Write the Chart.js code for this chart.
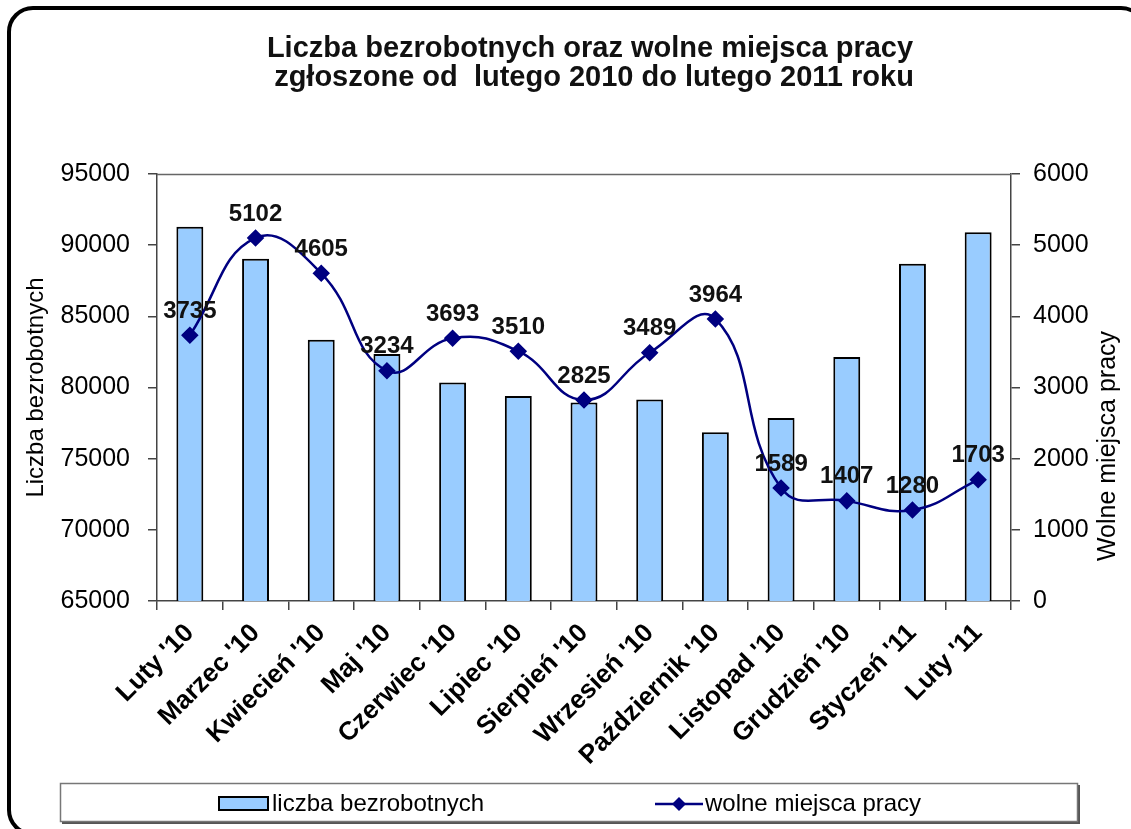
<!DOCTYPE html>
<html>
<head>
<meta charset="utf-8">
<script src="https://cdn.jsdelivr.net/npm/chart.js@4.4.1/dist/chart.umd.min.js"></script>
<style>
html,body{margin:0;padding:0;background:#fff;overflow:hidden;}
#wrap{position:relative;width:1131px;height:829px;overflow:hidden;background:#fff;}
#frame{position:absolute;left:7px;top:6px;width:1132px;height:822px;border:4px solid #000;border-radius:26px;box-sizing:content-box;}
#c{position:absolute;left:0;top:0;}
</style>
</head>
<body>
<div id="wrap">
<div id="frame"></div>
<canvas id="c" width="1131" height="829"></canvas>
</div>
<script>
// ---- data ----
const categories = ["Luty '10","Marzec '10","Kwiecień '10","Maj '10","Czerwiec '10","Lipiec '10","Sierpień '10","Wrzesień '10","Październik '10","Listopad '10","Grudzień '10","Styczeń '11","Luty '11"];
const unemployed = [91300, 89050, 83350, 82350, 80350, 79400, 78950, 79150, 76850, 77850, 82150, 88700, 90900];
const vacancies = [3735, 5102, 4605, 3234, 3693, 3510, 2825, 3489, 3964, 1589, 1407, 1280, 1703];
const leftTicks = [65000, 70000, 75000, 80000, 85000, 90000, 95000];
const rightTicks = [0, 1000, 2000, 3000, 4000, 5000, 6000];
const titleLines = ["Liczba bezrobotnych oraz wolne miejsca pracy", "zgłoszone od  lutego 2010 do lutego 2011 roku"];
const leftAxisTitle = "Liczba bezrobotnych";
const rightAxisTitle = "Wolne miejsca pracy";
const seriesNames = ["liczba bezrobotnych", "wolne miejsca pracy"];

const BAR_FILL = '#99CCFF';
const LINE_COL = '#000080';
const FONT = 'Arial, "Liberation Sans", sans-serif';

const decorPlugin = {
  id: 'decor',
  beforeDatasetsDraw(chart) {
    const {ctx, chartArea: a} = chart;
    ctx.save();
    ctx.strokeStyle = '#666';
    ctx.lineWidth = 1.5;
    ctx.beginPath();
    ctx.moveTo(a.left, a.top + 0.5);
    ctx.lineTo(a.right, a.top + 0.5);
    ctx.stroke();
    ctx.restore();
  },
  afterDatasetsDraw(chart) {
    const {ctx} = chart;
    const meta = chart.getDatasetMeta(1);
    ctx.save();
    ctx.font = 'bold 24px ' + FONT;
    ctx.fillStyle = '#111';
    ctx.textAlign = 'center';
    ctx.textBaseline = 'middle';
    meta.data.forEach((pt, i) => {
      ctx.fillText(String(vacancies[i]), pt.x, pt.y - 24);
    });
    ctx.restore();
  },
  afterDraw(chart) {
    const {ctx} = chart;
    ctx.save();
    // title
    ctx.fillStyle = '#111';
    ctx.font = 'bold 29px ' + FONT;
    ctx.textAlign = 'center';
    ctx.textBaseline = 'middle';
    ctx.fillText(titleLines[0], 590, 49);
    ctx.fillText(titleLines[1], 594, 78);
    // right axis title (reads bottom to top)
    ctx.save();
    ctx.translate(1108, 446);
    ctx.rotate(-Math.PI / 2);
    ctx.font = '25px ' + FONT;
    ctx.fillStyle = '#000';
    ctx.fillText(rightAxisTitle, 0, 0);
    ctx.restore();
    // legend box
    ctx.fillStyle = '#555';
    ctx.fillRect(62, 785, 1018, 39);
    ctx.fillStyle = '#fff';
    ctx.fillRect(60, 783, 1018, 39);
    ctx.strokeStyle = '#777';
    ctx.lineWidth = 1.5;
    ctx.strokeRect(60.5, 783.5, 1017, 38);
    // bar swatch
    ctx.fillStyle = BAR_FILL;
    ctx.fillRect(219, 797, 49, 13);
    ctx.strokeStyle = '#000';
    ctx.lineWidth = 2;
    ctx.strokeRect(219, 797, 49, 13);
    ctx.fillStyle = '#000';
    ctx.font = '24px ' + FONT;
    ctx.textAlign = 'left';
    ctx.textBaseline = 'middle';
    ctx.fillText(seriesNames[0], 272, 804);
    // line swatch
    ctx.strokeStyle = LINE_COL;
    ctx.lineWidth = 2.5;
    ctx.beginPath();
    ctx.moveTo(655, 804);
    ctx.lineTo(703, 804);
    ctx.stroke();
    ctx.fillStyle = LINE_COL;
    ctx.beginPath();
    ctx.moveTo(679, 797); ctx.lineTo(686, 804); ctx.lineTo(679, 811); ctx.lineTo(672, 804);
    ctx.closePath();
    ctx.fill();
    ctx.fillStyle = '#000';
    ctx.fillText(seriesNames[1], 705, 804);
    ctx.restore();
  }
};

const plain = v => String(v);

new Chart(document.getElementById('c'), {
  data: {
    labels: categories,
    datasets: [
      {
        type: 'bar',
        label: seriesNames[0],
        data: unemployed,
        yAxisID: 'y',
        backgroundColor: BAR_FILL,
        borderColor: '#000',
        borderWidth: 2,
        borderSkipped: false,
        barPercentage: 1,
        categoryPercentage: 0.41,
        order: 2
      },
      {
        type: 'line',
        label: seriesNames[1],
        data: vacancies,
        yAxisID: 'y1',
        borderColor: LINE_COL,
        borderWidth: 2.5,
        backgroundColor: LINE_COL,
        pointBackgroundColor: LINE_COL,
        pointBorderColor: LINE_COL,
        pointStyle: 'rectRot',
        pointRadius: 7,
        tension: 0.45,
        fill: false,
        order: 1
      }
    ]
  },
  options: {
    responsive: false,
    animation: false,
    layout: {padding: {top: 174, left: 0, right: 0, bottom: 0}},
    plugins: {
      legend: {display: false},
      title: {display: false},
      tooltip: {enabled: false}
    },
    scales: {
      x: {
        offset: true,
        grid: {display: true, offset: true, drawOnChartArea: false, drawTicks: true, tickLength: 9, color: '#444', lineWidth: 1.5},
        border: {display: true, color: '#444', width: 1.5},
        ticks: {
          color: '#000',
          font: {family: FONT, size: 26, weight: 'bold'},
          minRotation: 45,
          maxRotation: 45,
          padding: 8,
          autoSkip: false
        },
        afterFit(scale) { scale.height = 228; }
      },
      y: {
        type: 'linear',
        position: 'left',
        min: 65000,
        max: 95000,
        afterBuildTicks(scale) { scale.ticks = leftTicks.map(v => ({value: v})); },
        grid: {display: true, drawOnChartArea: false, drawTicks: true, tickLength: 9, color: '#444', lineWidth: 1.5},
        border: {display: true, color: '#444', width: 1.5},
        ticks: {color: '#000', font: {family: FONT, size: 25}, padding: 18, callback: plain},
        title: {display: true, text: leftAxisTitle, color: '#000', font: {family: FONT, size: 24}, padding: {top: 22, bottom: 0}},
        afterFit(scale) { scale.width = 157; }
      },
      y1: {
        type: 'linear',
        position: 'right',
        min: 0,
        max: 6000,
        afterBuildTicks(scale) { scale.ticks = rightTicks.map(v => ({value: v})); },
        grid: {display: true, drawOnChartArea: false, drawTicks: true, tickLength: 9, color: '#444', lineWidth: 1.5},
        border: {display: true, color: '#444', width: 1.5},
        ticks: {color: '#000', font: {family: FONT, size: 25}, padding: 13, callback: plain},
        afterFit(scale) { scale.width = 120; }
      }
    }
  },
  plugins: [decorPlugin]
});
</script>
</body>
</html>
